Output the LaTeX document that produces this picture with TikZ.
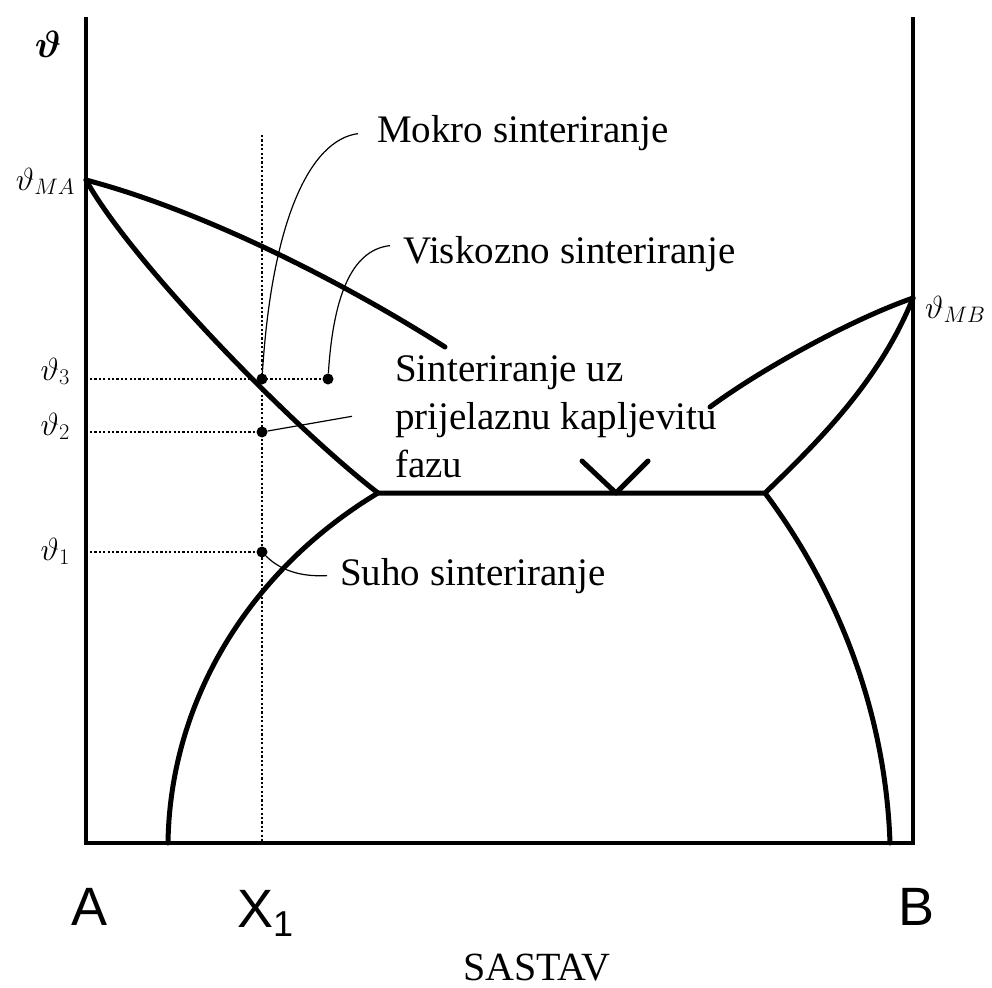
\RequirePackage{fix-cm}
\documentclass[tikz,border=0pt]{standalone}
\usepackage{fontspec}
\setmainfont{Liberation Serif}
\newfontfamily\arialf{Liberation Sans}
\usetikzlibrary{calc}
\begin{document}
\begin{tikzpicture}[x=1pt,y=-1pt,
  axisline/.style={line width=3.2pt},
  phase/.style={line width=5pt, line join=round, line cap=round},
  guide/.style={line width=2.6pt, dash pattern=on 2.2pt off 2.2pt},
  leader/.style={line width=1.2pt},
  dotn/.style={circle, fill, inner sep=0pt, minimum size=11pt},
  lbl/.style={font=\fontsize{39}{48}\selectfont, inner ysep=0pt, anchor=base west},
  tlbl/.style={font=\fontsize{32}{40}\selectfont, inner sep=0pt},
  ablbl/.style={font=\arialf\fontsize{54}{60}\selectfont, inner sep=0pt, anchor=base}]
\useasboundingbox (0,0) rectangle (992,987);

% frame
\coordinate (TL) at (86,17);
\coordinate (O) at (86,843);
\coordinate (BR) at (913,843);
\coordinate (TR) at (913,17);
\draw[axisline] (TL) -- (O) -- (BR) -- (TR);

% key points
\coordinate (MA) at (86,180);
\coordinate (MB) at (913,298);
\coordinate (E1) at (378,493);
\coordinate (E2) at (765,493);
\coordinate (Vt) at (616,493);
\coordinate (VL) at (582,461);
\coordinate (VR) at (648,461);
\coordinate (LA) at (445,347);
\coordinate (LB) at (710,407);
\coordinate (S1) at (168,843);
\coordinate (S2) at (890,843);

% phase boundaries
\draw[phase] (MA) .. controls (200,210) and (340,280) .. (LA);
\draw[phase] (MA) .. controls (130,260) and (290,425) .. (E1);
\draw[phase] (S1) .. controls (170,700) and (250,570) .. (E1) -- (E2)
             .. controls (830,580) and (885,700) .. (S2);
\draw[phase] (MB) .. controls (850,320) and (760,370) .. (LB);
\draw[phase] (MB) .. controls (880,380) and (820,440) .. (E2);
\draw[phase] (VL) -- (Vt) -- (VR);

% guide lines
\coordinate (Xtop) at (262,135);
\coordinate (Xbot) at (262,841);
\coordinate (H3) at (90,379);
\coordinate (H2) at (90,432);
\coordinate (H1) at (90,552);
\draw[guide] (Xtop) -- (Xbot);

\node[dotn] (d3) at (262,379) {};
\node[dotn] (d3b) at (328,379) {};
\node[dotn] (d2) at (262,432) {};
\node[dotn] (d1) at (262,552) {};
\draw[guide] (H3) -- (d3b);
\draw[guide] (H2) -- (d2);
\draw[guide] (H1) -- (d1);

% labels
\node[lbl, inner xsep=19pt] (mokro) at (358,143) {Mokro sinteriranje};
\node[lbl, inner xsep=13pt] (visk) at (390,263) {Viskozno sinteriranje};
\node[font=\fontsize{39}{48}\selectfont, inner sep=0pt, anchor=north west, align=left]
  (sint) at (395,355) {Sinteriranje uz\\prijelaznu kapljevitu\\fazu};
\node[lbl, inner xsep=13pt] (suho) at (327,585) {Suho sinteriranje};

% leaders
\draw[leader] (d3) .. controls (272,220) and (310,140) .. (mokro.west);
\draw[leader] (d3b) .. controls (333,300) and (350,250) .. ([yshift=8pt]visk.west);
\draw[leader] (d2) -- ([xshift=-43pt]sint.west);
\draw[leader] (d1) .. controls (280,570) and (300,577) .. (suho.west);

% axis labels
\node[font=\fontsize{38}{40}\selectfont\boldmath, inner sep=0pt] (th) at (48,44) {$\vartheta$};
\node[tlbl, anchor=base east] (tMA) at (75,190) {$\vartheta_{MA}$};
\node[tlbl, anchor=base west] (tMB) at (925,318) {$\vartheta_{MB}$};
\node[tlbl, anchor=base east] (t3) at (70,380) {$\vartheta_3$};
\node[tlbl, anchor=base east] (t2) at (70,435) {$\vartheta_2$};
\node[tlbl, anchor=base east] (t1) at (70,560) {$\vartheta_1$};

\node[ablbl] (A) at (90,925) {A};
\node[ablbl, anchor=base west] (X1) at (237,927) {X{\fontsize{36}{36}\selectfont\raisebox{-9pt}{1}}};
\node[ablbl] (B) at (916,925) {B};
\node[font=\fontsize{40}{40}\selectfont, inner sep=0pt, anchor=base] (sastav) at (537,980) {SASTAV};
\end{tikzpicture}
\end{document}
